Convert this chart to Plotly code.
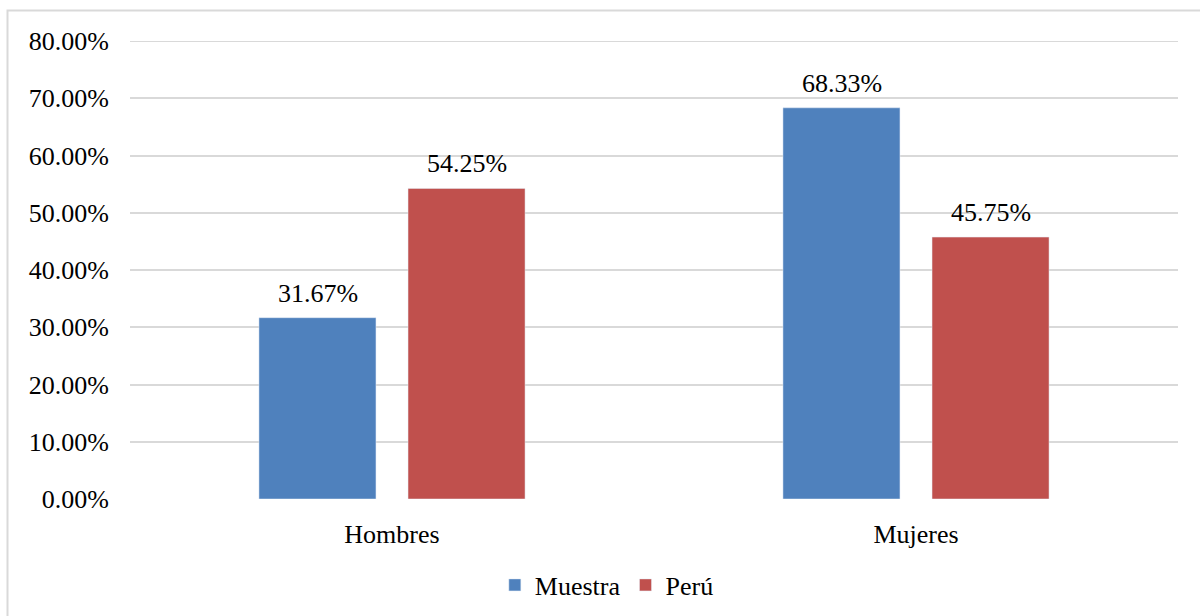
import plotly.graph_objects as go

categorias = ['Hombres', 'Mujeres']
muestra = [0.3167, 0.6833]
peru = [0.5425, 0.4575]

FUENTE = 'Times New Roman, Liberation Serif, serif'
Y_MAX = 0.8

fig = go.Figure()

fig.add_trace(go.Bar(
    x=categorias,
    y=muestra,
    name='Muestra',
    marker_color='#4F81BD',
))

fig.add_trace(go.Bar(
    x=categorias,
    y=peru,
    name='Perú',
    marker_color='#C0504D',
))

# etiquetas de datos sobre cada barra
for serie, desplaz in ((muestra, -74.5), (peru, 74.5)):
    for cat, v in zip(categorias, serie):
        fig.add_annotation(
            x=cat, y=v,
            text=f'{v:.2%}',
            showarrow=False,
            xshift=desplaz,
            yanchor='bottom',
            yshift=8,
            font=dict(family=FUENTE, size=26, color='black'),
        )

fig.update_layout(
    width=1200,
    height=616,
    margin=dict(l=130, r=22, t=41, b=117, autoexpand=False),
    paper_bgcolor='white',
    plot_bgcolor='white',
    font=dict(family=FUENTE, size=26, color='black'),
    bargap=0.431,
    bargroupgap=0.215,
    showlegend=True,
    legend=dict(
        orientation='h',
        x=0.455,
        xanchor='center',
        yref='container',
        y=1 - 585 / 616,
        yanchor='middle',
        font=dict(size=26),
    ),
)

fig.update_yaxes(
    range=[0, Y_MAX],
    dtick=0.1,
    tickformat='.2%',
    showgrid=True,
    gridcolor='#d9d9d9',
    gridwidth=2,
    zeroline=False,
    showline=False,
    ticks='',
    ticklabelstandoff=20,
    automargin=False,
)

fig.update_xaxes(
    showline=False,
    ticks='',
    ticklabelstandoff=17,
    automargin=False,
)

# linea de cuadricula superior (plotly no la dibuja en el borde)
fig.add_shape(
    type='line',
    xref='paper', yref='y',
    x0=0, x1=1, y0=Y_MAX, y1=Y_MAX,
    line=dict(color='#d9d9d9', width=2),
    layer='below',
)

# marco gris alrededor del grafico
fig.add_shape(
    type='rect',
    xref='paper', yref='paper',
    x0=(7.5 - 130) / 1048, x1=(1210 - 130) / 1048,
    y0=(499 - 630) / 458, y1=1 + (41 - 10.5) / 458,
    line=dict(color='#d9d9d9', width=2),
    fillcolor='rgba(0,0,0,0)',
    layer='below',
)

fig.write_html('out.html', config={'displayModeBar': False},
               post_script="document.body.style.margin='0';")
